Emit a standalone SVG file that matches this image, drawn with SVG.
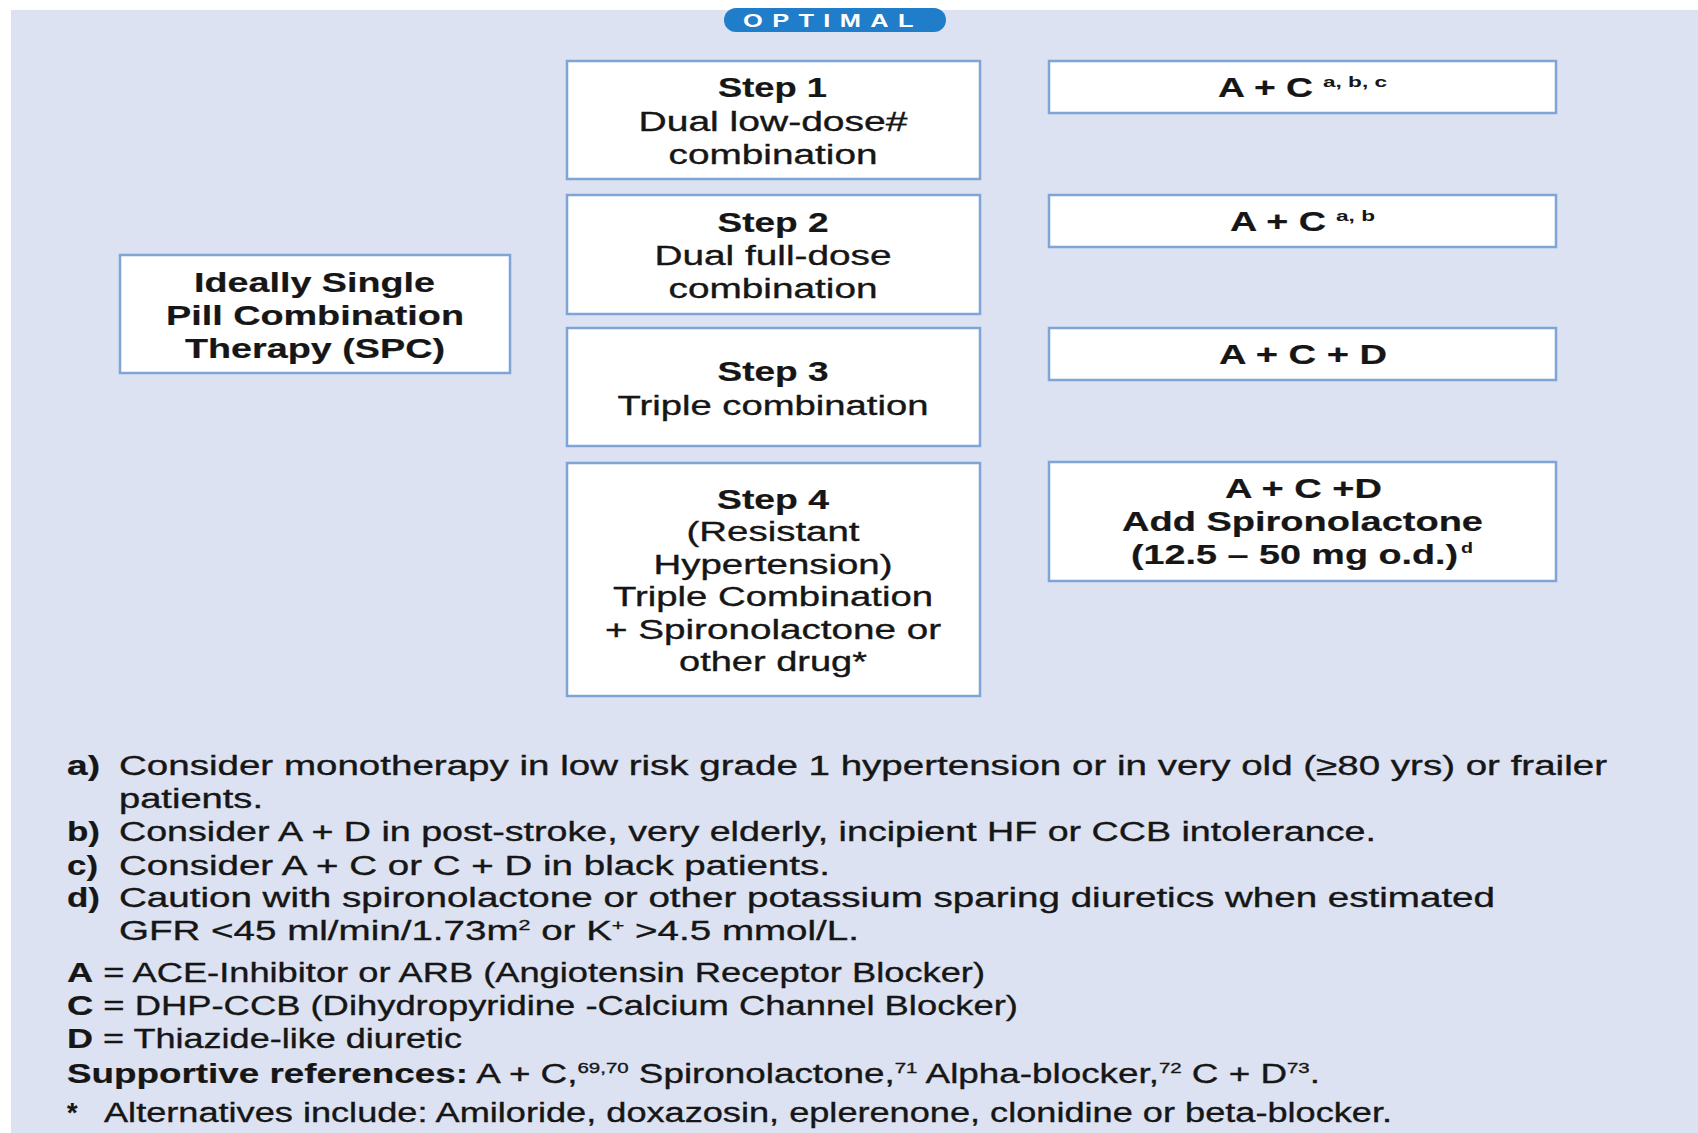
<svg xmlns="http://www.w3.org/2000/svg" width="1698" height="1133" viewBox="0 0 1698 1133">
  <style>
    .bg { fill: #dce2f1; }
    .box { fill: #ffffff; stroke: #7ea5d6; stroke-width: 2.5; }
    .t { font-family: "Liberation Sans", Arial, sans-serif; font-size: 27px; fill: #161616; stroke: #161616; stroke-width: 0.35px; }
    .b { font-weight: bold; stroke-width: 0.2px; }
    .sup { font-size: 14px; font-weight: bold; stroke-width: 0; }
    .fsup { font-size: 15px; }
    .pill { fill: #1f7dc9; }
    .pilltext { font-family: "Liberation Sans", Arial, sans-serif; font-size: 19px; font-weight: bold; fill: #ffffff; letter-spacing: 7px; }
  </style>

  <!-- page background -->
  <rect x="0" y="0" width="1698" height="1133" fill="#ffffff"/>
  <rect class="bg" x="11" y="10" width="1687" height="1123"/>

  <!-- OPTIMAL tab -->
  <g id="optimal">
    <rect class="pill" x="724" y="8" width="222" height="24" rx="12"/>
    <text class="pilltext" x="743" y="26.5" textLength="180" lengthAdjust="spacingAndGlyphs">OPTIMAL</text>
  </g>

  <!-- left node -->
  <g id="spc">
    <rect class="box" x="120" y="255" width="390" height="118"/>
    <text class="t b" x="194" y="292" textLength="241" lengthAdjust="spacingAndGlyphs">Ideally Single</text>
    <text class="t b" x="166" y="325" textLength="298" lengthAdjust="spacingAndGlyphs">Pill Combination</text>
    <text class="t b" x="185" y="358" textLength="260" lengthAdjust="spacingAndGlyphs">Therapy (SPC)</text>
  </g>

  <!-- step column -->
  <g id="step1">
    <rect class="box" x="567" y="61" width="413" height="118"/>
    <text class="t b" x="718" y="97" textLength="109" lengthAdjust="spacingAndGlyphs">Step 1</text>
    <text class="t" x="638.5" y="130.5" textLength="269" lengthAdjust="spacingAndGlyphs">Dual low-dose#</text>
    <text class="t" x="668.5" y="163.5" textLength="209" lengthAdjust="spacingAndGlyphs">combination</text>
  </g>
  <g id="step2">
    <rect class="box" x="567" y="195" width="413" height="119"/>
    <text class="t b" x="717.5" y="232" textLength="111" lengthAdjust="spacingAndGlyphs">Step 2</text>
    <text class="t" x="654.5" y="265" textLength="237" lengthAdjust="spacingAndGlyphs">Dual full-dose</text>
    <text class="t" x="668.5" y="298" textLength="209" lengthAdjust="spacingAndGlyphs">combination</text>
  </g>
  <g id="step3">
    <rect class="box" x="567" y="328" width="413" height="118"/>
    <text class="t b" x="717.5" y="381" textLength="111" lengthAdjust="spacingAndGlyphs">Step 3</text>
    <text class="t" x="617.5" y="414.5" textLength="311" lengthAdjust="spacingAndGlyphs">Triple combination</text>
  </g>
  <g id="step4">
    <rect class="box" x="567" y="463" width="413" height="233"/>
    <text class="t b" x="717" y="508.5" textLength="112" lengthAdjust="spacingAndGlyphs">Step 4</text>
    <text class="t" x="686.5" y="541" textLength="173" lengthAdjust="spacingAndGlyphs">(Resistant</text>
    <text class="t" x="653.5" y="573.5" textLength="239" lengthAdjust="spacingAndGlyphs">Hypertension)</text>
    <text class="t" x="613" y="606" textLength="320" lengthAdjust="spacingAndGlyphs">Triple Combination</text>
    <text class="t" x="605" y="638.5" textLength="336" lengthAdjust="spacingAndGlyphs">+ Spironolactone or</text>
    <text class="t" x="679" y="671" textLength="188" lengthAdjust="spacingAndGlyphs">other drug*</text>
  </g>

  <!-- drug column -->
  <g id="drug1">
    <rect class="box" x="1049" y="61" width="507" height="52"/>
    <text class="t b" x="1218" y="97" textLength="95" lengthAdjust="spacingAndGlyphs">A + C</text>
    <text class="t sup" x="1323" y="87" textLength="64" lengthAdjust="spacingAndGlyphs">a, b, c</text>
  </g>
  <g id="drug2">
    <rect class="box" x="1049" y="195" width="507" height="52"/>
    <text class="t b" x="1230" y="230.5" textLength="96" lengthAdjust="spacingAndGlyphs">A + C</text>
    <text class="t sup" x="1336" y="220.5" textLength="39" lengthAdjust="spacingAndGlyphs">a, b</text>
  </g>
  <g id="drug3">
    <rect class="box" x="1049" y="328" width="507" height="52"/>
    <text class="t b" x="1219" y="363.5" textLength="168" lengthAdjust="spacingAndGlyphs">A + C + D</text>
  </g>
  <g id="drug4">
    <rect class="box" x="1049" y="462" width="507" height="119"/>
    <text class="t b" x="1225" y="497.5" textLength="157" lengthAdjust="spacingAndGlyphs">A + C +D</text>
    <text class="t b" x="1122" y="530.5" textLength="361" lengthAdjust="spacingAndGlyphs">Add Spironolactone</text>
    <text class="t b" x="1131" y="563.5" textLength="327" lengthAdjust="spacingAndGlyphs">(12.5 – 50 mg o.d.)</text>
    <text class="t sup" x="1461" y="553" textLength="12" lengthAdjust="spacingAndGlyphs">d</text>
  </g>

  <!-- footnotes -->
  <g id="footnotes">
    <text class="t b" x="67" y="775" textLength="33" lengthAdjust="spacingAndGlyphs">a)</text>
    <text class="t" x="119" y="775" textLength="1488" lengthAdjust="spacingAndGlyphs">Consider monotherapy in low risk grade 1 hypertension or in very old (≥80 yrs) or frailer</text>
    <text class="t" x="119" y="807.5" textLength="144" lengthAdjust="spacingAndGlyphs">patients.</text>
    <text class="t b" x="67" y="841" textLength="33" lengthAdjust="spacingAndGlyphs">b)</text>
    <text class="t" x="119" y="841" textLength="1257" lengthAdjust="spacingAndGlyphs">Consider A + D in post-stroke, very elderly, incipient HF or CCB intolerance.</text>
    <text class="t b" x="67" y="874.5" textLength="31" lengthAdjust="spacingAndGlyphs">c)</text>
    <text class="t" x="119" y="874.5" textLength="711" lengthAdjust="spacingAndGlyphs">Consider A + C or C + D in black patients.</text>
    <text class="t b" x="67" y="907" textLength="33" lengthAdjust="spacingAndGlyphs">d)</text>
    <text class="t" x="119" y="907" textLength="1376" lengthAdjust="spacingAndGlyphs">Caution with spironolactone or other potassium sparing diuretics when estimated</text>
    <text class="t" x="119" y="939.5" textLength="740" lengthAdjust="spacingAndGlyphs">GFR &lt;45 ml/min/1.73m<tspan class="fsup" dy="-10">2</tspan><tspan dy="10"> or K</tspan><tspan class="fsup" dy="-10">+</tspan><tspan dy="10"> &gt;4.5 mmol/L.</tspan></text>
  </g>

  <!-- legend -->
  <g id="legend">
    <text class="t" x="67" y="982" textLength="918" lengthAdjust="spacingAndGlyphs"><tspan class="b">A</tspan> = ACE-Inhibitor or ARB (Angiotensin Receptor Blocker)</text>
    <text class="t" x="67" y="1014.5" textLength="951" lengthAdjust="spacingAndGlyphs"><tspan class="b">C</tspan> = DHP-CCB (Dihydropyridine -Calcium Channel Blocker)</text>
    <text class="t" x="67" y="1048" textLength="395" lengthAdjust="spacingAndGlyphs"><tspan class="b">D</tspan> = Thiazide-like diuretic</text>
    <text class="t" x="67" y="1082.5" textLength="1253" lengthAdjust="spacingAndGlyphs"><tspan class="b">Supportive references:</tspan> A + C,<tspan class="fsup" dy="-10">69,70</tspan><tspan dy="10"> Spironolactone,</tspan><tspan class="fsup" dy="-10">71</tspan><tspan dy="10"> Alpha-blocker,</tspan><tspan class="fsup" dy="-10">72</tspan><tspan dy="10"> C + D</tspan><tspan class="fsup" dy="-10">73</tspan><tspan dy="10">.</tspan></text>
    <text class="t b" x="67" y="1121.5">*</text>
    <text class="t" x="104" y="1121.5" textLength="1288" lengthAdjust="spacingAndGlyphs">Alternatives include: Amiloride, doxazosin, eplerenone, clonidine or beta-blocker.</text>
  </g>
</svg>
